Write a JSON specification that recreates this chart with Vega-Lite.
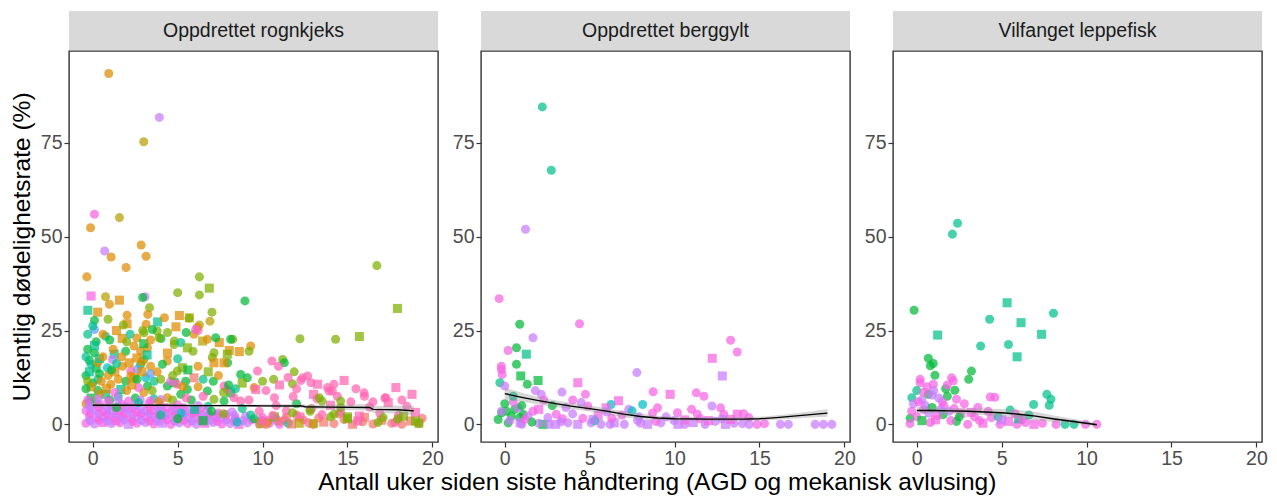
{
"$schema":"https://vega.github.io/schema/vega-lite/v6.json",
"padding":{"left":8,"top":11,"right":0,"bottom":0},
"title":{"text":"Antall uker siden siste håndtering (AGD og mekanisk avlusing)","orient":"bottom","anchor":"middle","fontSize":24.5,"fontWeight":"normal","font":"Liberation Sans","color":"#000000","offset":3,"dx":19},
"config":{"font":"Liberation Sans","view":{"stroke":"#333333","strokeWidth":1.4},
"axis":{"grid":false,"domain":false,"labelFontSize":19.5,"labelColor":"#4D4D4D","labelFont":"Liberation Sans","tickColor":"#333333","tickSize":5,"tickWidth":1.2,"labelPadding":2,"titleFontSize":24.5,"titleFontWeight":"normal","titleColor":"#000000","titleFont":"Liberation Sans"}},
"datasets":{
"fit":[
{"f":"R","x":0,"y":5.1,"lo":4.5,"hi":5.7},{"f":"R","x":1,"y":5.1,"lo":4.6,"hi":5.6},{"f":"R","x":2,"y":5.1,"lo":4.7,"hi":5.5},{"f":"R","x":4,"y":5.1,"lo":4.8,"hi":5.4},{"f":"R","x":6,"y":5.0,"lo":4.7,"hi":5.3},{"f":"R","x":8,"y":5.0,"lo":4.7,"hi":5.3},{"f":"R","x":10,"y":4.95,"lo":4.6,"hi":5.3},{"f":"R","x":12.3,"y":4.9,"lo":4.4,"hi":5.4},{"f":"R","x":12.5,"y":4.7,"lo":4.2,"hi":5.2},{"f":"R","x":14,"y":4.6,"lo":3.9,"hi":5.3},{"f":"R","x":16.3,"y":4.5,"lo":3.6,"hi":5.4},{"f":"R","x":16.5,"y":4.0,"lo":3.1,"hi":4.9},{"f":"R","x":18,"y":3.9,"lo":2.8,"hi":5.0},{"f":"R","x":18.9,"y":3.6,"lo":2.3,"hi":4.9},
{"f":"B","x":0,"y":8.2,"lo":6.6,"hi":9.8},{"f":"B","x":1,"y":7.2,"lo":6.0,"hi":8.4},{"f":"B","x":2,"y":6.3,"lo":5.3,"hi":7.3},{"f":"B","x":3,"y":5.5,"lo":4.6,"hi":6.4},{"f":"B","x":4,"y":4.8,"lo":4.0,"hi":5.6},{"f":"B","x":5,"y":4.2,"lo":3.4,"hi":5.0},{"f":"B","x":6,"y":3.5,"lo":2.7,"hi":4.3},{"f":"B","x":7,"y":2.7,"lo":1.9,"hi":3.5},{"f":"B","x":8,"y":2.1,"lo":1.3,"hi":2.9},{"f":"B","x":9,"y":1.7,"lo":1.1,"hi":2.3},{"f":"B","x":10,"y":1.5,"lo":1.0,"hi":2.0},{"f":"B","x":12,"y":1.4,"lo":0.9,"hi":1.9},{"f":"B","x":14,"y":1.4,"lo":0.9,"hi":1.9},{"f":"B","x":15,"y":1.5,"lo":1.0,"hi":2.0},{"f":"B","x":16,"y":1.8,"lo":1.2,"hi":2.4},{"f":"B","x":17,"y":2.2,"lo":1.5,"hi":2.9},{"f":"B","x":18,"y":2.6,"lo":1.8,"hi":3.4},{"f":"B","x":19,"y":3.0,"lo":2.0,"hi":4.0},
{"f":"V","x":0,"y":3.7,"lo":2.8,"hi":4.6},{"f":"V","x":1,"y":3.7,"lo":3.0,"hi":4.4},{"f":"V","x":2,"y":3.6,"lo":2.9,"hi":4.3},{"f":"V","x":3,"y":3.5,"lo":2.7,"hi":4.3},{"f":"V","x":4,"y":3.3,"lo":2.4,"hi":4.2},{"f":"V","x":5,"y":3.1,"lo":2.1,"hi":4.1},{"f":"V","x":6,"y":2.7,"lo":1.6,"hi":3.8},{"f":"V","x":7,"y":2.2,"lo":1.1,"hi":3.3},{"f":"V","x":8,"y":1.5,"lo":0.6,"hi":2.4},{"f":"V","x":9,"y":0.9,"lo":0.2,"hi":1.6},{"f":"V","x":10,"y":0.3,"lo":-0.2,"hi":0.8},{"f":"V","x":10.6,"y":-0.1,"lo":-0.5,"hi":0.3}
],
"pts":[
{"f":"R","g":"B","s":"o","x":0.94,"y":93.5},{"f":"R","g":"J","s":"o","x":3.92,"y":81.8},{"f":"R","g":"C","s":"o","x":3.0,"y":75.3},{"f":"R","g":"K","s":"o","x":0.1,"y":56.0},{"f":"R","g":"C","s":"o","x":1.57,"y":55.1},{"f":"R","g":"B","s":"o","x":-0.13,"y":52.4},{"f":"R","g":"B","s":"o","x":2.85,"y":47.8},{"f":"R","g":"J","s":"o","x":0.7,"y":46.2},{"f":"R","g":"B","s":"o","x":1.08,"y":44.6},{"f":"R","g":"B","s":"o","x":3.14,"y":44.8},{"f":"R","g":"B","s":"o","x":1.96,"y":41.8},{"f":"R","g":"B","s":"o","x":-0.35,"y":39.3},{"f":"R","g":"D","s":"o","x":16.73,"y":42.3},{"f":"R","g":"D","s":"o","x":6.28,"y":39.3},{"f":"R","g":"D","s":"q","x":6.86,"y":36.3},{"f":"R","g":"D","s":"o","x":5.0,"y":35.1},{"f":"R","g":"D","s":"o","x":6.28,"y":34.5},{"f":"R","g":"F","s":"o","x":8.96,"y":32.9},{"f":"R","g":"K","s":"q","x":-0.1,"y":34.2},{"f":"R","g":"J","s":"o","x":3.08,"y":34.0},{"f":"R","g":"C","s":"o","x":0.75,"y":34.0},{"f":"R","g":"B","s":"q","x":1.57,"y":33.1},{"f":"R","g":"B","s":"o","x":0.98,"y":32.0},{"f":"R","g":"F","s":"o","x":2.94,"y":33.8},{"f":"R","g":"D","s":"o","x":3.34,"y":31.1},{"f":"R","g":"G","s":"q","x":-0.29,"y":30.4},{"f":"R","g":"B","s":"q","x":0.29,"y":29.9},{"f":"R","g":"D","s":"o","x":7.02,"y":29.9},{"f":"R","g":"C","s":"q","x":5.69,"y":28.4},{"f":"R","g":"B","s":"q","x":5.1,"y":29.0},{"f":"R","g":"B","s":"o","x":2.02,"y":29.1},{"f":"R","g":"B","s":"o","x":3.24,"y":29.3},{"f":"R","g":"G","s":"q","x":3.82,"y":27.3},{"f":"R","g":"C","s":"o","x":6.9,"y":27.5},{"f":"R","g":"B","s":"q","x":2.02,"y":26.8},{"f":"R","g":"B","s":"o","x":4.22,"y":28.4},{"f":"R","g":"B","s":"o","x":3.14,"y":26.7},{"f":"R","g":"C","s":"o","x":6.28,"y":26.5},{"f":"R","g":"F","s":"o","x":0.1,"y":27.7},{"f":"R","g":"L","s":"o","x":6.2,"y":25.0},{"f":"R","g":"I","s":"o","x":0.1,"y":25.3},{"f":"R","g":"D","s":"o","x":2.94,"y":25.0},{"f":"R","g":"G","s":"o","x":0.75,"y":23.5},{"f":"R","g":"D","s":"o","x":3.79,"y":24.9},{"f":"R","g":"B","s":"q","x":1.73,"y":22.9},{"f":"R","g":"F","s":"o","x":4.02,"y":22.9},{"f":"R","g":"D","s":"o","x":4.8,"y":22.2},{"f":"R","g":"D","s":"o","x":8.24,"y":22.7},{"f":"R","g":"D","s":"o","x":12.2,"y":22.8},{"f":"R","g":"D","s":"o","x":14.3,"y":22.7},{"f":"R","g":"D","s":"q","x":15.7,"y":23.4},{"f":"R","g":"C","s":"q","x":6.47,"y":22.2},{"f":"R","g":"B","s":"q","x":7.45,"y":21.8},{"f":"R","g":"B","s":"q","x":8.04,"y":19.7},{"f":"R","g":"B","s":"q","x":8.63,"y":19.4},{"f":"R","g":"B","s":"o","x":9.3,"y":20.9},{"f":"R","g":"D","s":"o","x":9.2,"y":19.5},{"f":"R","g":"F","s":"o","x":7.94,"y":16.4},{"f":"R","g":"D","s":"o","x":11.18,"y":17.3},{"f":"R","g":"F","s":"o","x":11.28,"y":16.4},{"f":"R","g":"L","s":"o","x":10.55,"y":16.9},{"f":"R","g":"L","s":"o","x":10.94,"y":15.5},{"f":"R","g":"L","s":"o","x":9.7,"y":14.2},{"f":"R","g":"D","s":"o","x":11.86,"y":14.0},{"f":"R","g":"D","s":"o","x":11.76,"y":10.8},{"f":"R","g":"D","s":"o","x":10.0,"y":11.5},{"f":"R","g":"D","s":"o","x":10.65,"y":12.0},{"f":"R","g":"L","s":"o","x":12.35,"y":12.4},{"f":"R","g":"L","s":"o","x":12.85,"y":11.1},{"f":"R","g":"L","s":"q","x":13.24,"y":10.7},{"f":"R","g":"L","s":"o","x":13.82,"y":9.8},{"f":"R","g":"L","s":"o","x":14.2,"y":10.7},{"f":"R","g":"L","s":"q","x":14.8,"y":11.7},{"f":"R","g":"L","s":"o","x":15.98,"y":8.4},{"f":"R","g":"L","s":"q","x":17.85,"y":9.8},{"f":"R","g":"L","s":"o","x":12.65,"y":12.9},{"f":"R","g":"L","s":"o","x":14.1,"y":8.9},{"f":"R","g":"D","s":"q","x":17.94,"y":30.9},{"f":"R","g":"D","s":"o","x":5.67,"y":28.3},{"f":"R","g":"G","s":"o","x":0.0,"y":26.2},{"f":"R","g":"D","s":"o","x":3.02,"y":24.4},{"f":"R","g":"F","s":"o","x":3.51,"y":25.3},{"f":"R","g":"D","s":"o","x":3.9,"y":23.1},{"f":"R","g":"D","s":"o","x":4.79,"y":21.3},{"f":"R","g":"G","s":"o","x":5.18,"y":21.8},{"f":"R","g":"D","s":"q","x":5.57,"y":20.4},{"f":"R","g":"B","s":"o","x":5.96,"y":24.0},{"f":"R","g":"B","s":"o","x":6.16,"y":25.8},{"f":"R","g":"K","s":"o","x":6.06,"y":25.3},{"f":"R","g":"B","s":"o","x":6.75,"y":22.7},{"f":"R","g":"F","s":"o","x":7.24,"y":23.1},{"f":"R","g":"F","s":"o","x":8.12,"y":22.7},{"f":"R","g":"D","s":"o","x":7.14,"y":19.1},{"f":"R","g":"D","s":"o","x":7.04,"y":17.8},{"f":"R","g":"B","s":"q","x":7.14,"y":16.4},{"f":"R","g":"B","s":"q","x":7.73,"y":16.4},{"f":"R","g":"D","s":"q","x":7.92,"y":18.7},{"f":"R","g":"A","s":"q","x":5.96,"y":12.4},{"f":"R","g":"B","s":"o","x":4.39,"y":16.9},{"f":"R","g":"D","s":"o","x":4.98,"y":14.2},{"f":"R","g":"D","s":"q","x":5.28,"y":15.1},{"f":"R","g":"F","s":"o","x":5.47,"y":11.5},{"f":"R","g":"F","s":"o","x":5.57,"y":9.3},{"f":"R","g":"D","s":"o","x":3.02,"y":17.3},{"f":"R","g":"F","s":"o","x":2.82,"y":16.0},{"f":"R","g":"I","s":"o","x":2.63,"y":14.7},{"f":"R","g":"H","s":"o","x":3.12,"y":12.4},{"f":"R","g":"F","s":"o","x":3.22,"y":10.2},{"f":"R","g":"L","s":"o","x":2.24,"y":14.2},{"f":"R","g":"F","s":"o","x":1.94,"y":11.5},{"f":"R","g":"G","s":"q","x":1.65,"y":9.3},{"f":"R","g":"B","s":"o","x":1.06,"y":10.7},{"f":"R","g":"G","s":"q","x":0.76,"y":8.0},{"f":"R","g":"G","s":"q","x":1.26,"y":18.7},{"f":"R","g":"F","s":"o","x":1.94,"y":19.5},{"f":"R","g":"H","s":"o","x":0.86,"y":15.1},{"f":"R","g":"J","s":"o","x":1.16,"y":17.3},{"f":"R","g":"B","s":"o","x":2.82,"y":19.5},{"f":"R","g":"B","s":"o","x":2.43,"y":20.9},{"f":"R","g":"B","s":"o","x":3.22,"y":20.4},{"f":"R","g":"B","s":"q","x":2.14,"y":16.4},{"f":"R","g":"B","s":"o","x":3.41,"y":15.5},{"f":"R","g":"B","s":"o","x":1.75,"y":15.5},{"f":"R","g":"B","s":"o","x":2.24,"y":12.9},{"f":"R","g":"B","s":"q","x":2.43,"y":12.4},{"f":"R","g":"G","s":"o","x":3.61,"y":11.5},{"f":"R","g":"D","s":"o","x":4.0,"y":12.0},{"f":"R","g":"F","s":"o","x":4.39,"y":10.2},{"f":"R","g":"F","s":"q","x":4.79,"y":11.1},{"f":"R","g":"B","s":"o","x":4.39,"y":7.1},{"f":"R","g":"F","s":"o","x":5.18,"y":8.0},{"f":"R","g":"F","s":"o","x":6.75,"y":8.9},{"f":"R","g":"D","s":"o","x":7.14,"y":6.7},{"f":"R","g":"F","s":"o","x":7.73,"y":6.2},{"f":"R","g":"F","s":"q","x":8.12,"y":8.4},{"f":"R","g":"F","s":"o","x":8.71,"y":13.3},{"f":"R","g":"F","s":"o","x":9.1,"y":12.4},{"f":"R","g":"B","s":"o","x":9.5,"y":9.8},{"f":"R","g":"L","s":"o","x":7.73,"y":10.2},{"f":"R","g":"L","s":"o","x":7.92,"y":9.3},{"f":"R","g":"L","s":"o","x":8.32,"y":7.1},{"f":"R","g":"L","s":"o","x":8.71,"y":6.2},{"f":"R","g":"K","s":"o","x":4.59,"y":11.5},{"f":"R","g":"L","s":"o","x":4.98,"y":10.7},
{"f":"R","g":"F","s":"o","x":-0.3,"y":20.0},{"f":"R","g":"F","s":"o","x":0.1,"y":19.0},{"f":"R","g":"F","s":"o","x":-0.2,"y":17.0},{"f":"R","g":"F","s":"q","x":0.2,"y":15.0},{"f":"R","g":"F","s":"o","x":-0.4,"y":13.0},{"f":"R","g":"F","s":"o","x":0.0,"y":11.0},{"f":"R","g":"F","s":"o","x":0.3,"y":9.0},{"f":"R","g":"F","s":"q","x":-0.1,"y":7.0},{"f":"R","g":"F","s":"o","x":0.2,"y":22.0},{"f":"R","g":"G","s":"o","x":-0.3,"y":24.0},{"f":"R","g":"G","s":"q","x":-0.2,"y":14.0},{"f":"R","g":"G","s":"o","x":0.3,"y":12.0},{"f":"R","g":"G","s":"o","x":-0.4,"y":18.0},{"f":"R","g":"G","s":"q","x":0.1,"y":21.0},{"f":"R","g":"G","s":"o","x":-0.1,"y":16.0},{"f":"R","g":"B","s":"o","x":0.3,"y":16.5},{"f":"R","g":"B","s":"q","x":-0.1,"y":10.0},{"f":"R","g":"B","s":"o","x":0.4,"y":8.0},{"f":"R","g":"B","s":"o","x":-0.4,"y":5.5},{"f":"R","g":"D","s":"o","x":-0.3,"y":11.5},{"f":"R","g":"D","s":"o","x":0.1,"y":6.0},{"f":"R","g":"F","s":"o","x":-0.4,"y":9.5},{"f":"R","g":"G","s":"q","x":0.4,"y":17.5},{"f":"R","g":"F","s":"o","x":0.4,"y":13.5},{"f":"R","g":"G","s":"o","x":-0.2,"y":6.0},
{"f":"R","g":"B","s":"o","x":0.9,"y":13.0},{"f":"R","g":"B","s":"q","x":1.3,"y":14.0},{"f":"R","g":"B","s":"o","x":1.5,"y":12.0},{"f":"R","g":"B","s":"o","x":0.6,"y":18.0},{"f":"R","g":"B","s":"q","x":2.6,"y":17.7},{"f":"R","g":"B","s":"o","x":1.2,"y":20.0},{"f":"R","g":"F","s":"o","x":1.0,"y":6.5},{"f":"R","g":"G","s":"o","x":1.5,"y":7.5},{"f":"R","g":"B","s":"o","x":2.0,"y":9.0},{"f":"R","g":"F","s":"o","x":2.5,"y":7.0},{"f":"R","g":"B","s":"o","x":3.0,"y":8.5},{"f":"R","g":"G","s":"o","x":3.6,"y":6.8},{"f":"R","g":"B","s":"q","x":2.9,"y":14.0},{"f":"R","g":"D","s":"o","x":4.7,"y":6.5},{"f":"R","g":"F","s":"o","x":5.8,"y":6.5},{"f":"R","g":"B","s":"o","x":6.2,"y":10.0},{"f":"R","g":"G","s":"o","x":6.8,"y":4.8},{"f":"R","g":"K","s":"o","x":1.3,"y":8.5},{"f":"R","g":"K","s":"o","x":2.7,"y":9.8},{"f":"R","g":"I","s":"o","x":3.4,"y":13.5},{"f":"R","g":"L","s":"o","x":5.5,"y":7.0},{"f":"R","g":"L","s":"o","x":6.5,"y":7.5},
{"f":"R","g":"B","s":"o","x":0.5,"y":11.5},{"f":"R","g":"B","s":"q","x":0.8,"y":9.5},{"f":"R","g":"F","s":"o","x":1.1,"y":14.5},{"f":"R","g":"G","s":"o","x":1.4,"y":16.2},{"f":"R","g":"B","s":"o","x":1.7,"y":18.0},{"f":"R","g":"D","s":"o","x":2.0,"y":22.0},{"f":"R","g":"B","s":"q","x":2.3,"y":10.5},{"f":"R","g":"F","s":"o","x":2.6,"y":12.0},{"f":"R","g":"B","s":"o","x":2.9,"y":16.8},{"f":"R","g":"G","s":"q","x":3.2,"y":18.5},{"f":"R","g":"D","s":"o","x":3.5,"y":9.0},{"f":"R","g":"B","s":"o","x":3.8,"y":14.0},{"f":"R","g":"F","s":"o","x":4.1,"y":16.0},{"f":"R","g":"B","s":"q","x":4.4,"y":19.0},{"f":"R","g":"D","s":"o","x":4.7,"y":13.0},{"f":"R","g":"G","s":"o","x":5.0,"y":17.5},{"f":"R","g":"B","s":"o","x":5.3,"y":10.0},{"f":"R","g":"F","s":"q","x":5.6,"y":14.5},{"f":"R","g":"D","s":"o","x":5.9,"y":19.5},{"f":"R","g":"B","s":"o","x":6.2,"y":15.5},{"f":"R","g":"G","s":"o","x":6.5,"y":12.0},{"f":"R","g":"D","s":"q","x":6.8,"y":14.0},{"f":"R","g":"F","s":"o","x":7.1,"y":11.5},{"f":"R","g":"B","s":"o","x":7.4,"y":13.0},{"f":"R","g":"D","s":"o","x":7.7,"y":8.5},{"f":"R","g":"F","s":"o","x":8.0,"y":10.5},{"f":"R","g":"G","s":"o","x":8.4,"y":9.5},{"f":"R","g":"D","s":"q","x":8.8,"y":11.0},{"f":"R","g":"B","s":"o","x":0.6,"y":24.0},{"f":"R","g":"F","s":"o","x":1.0,"y":22.5},{"f":"R","g":"B","s":"q","x":1.4,"y":25.0},{"f":"R","g":"D","s":"o","x":1.8,"y":26.5},{"f":"R","g":"G","s":"o","x":2.2,"y":24.0},{"f":"R","g":"B","s":"o","x":2.6,"y":23.0},{"f":"R","g":"F","s":"q","x":3.0,"y":21.5},{"f":"R","g":"B","s":"o","x":3.4,"y":22.5},{"f":"R","g":"D","s":"o","x":4.4,"y":24.5},{"f":"R","g":"B","s":"q","x":4.9,"y":26.0},{"f":"R","g":"F","s":"o","x":5.5,"y":24.5},{"f":"R","g":"D","s":"o","x":0.9,"y":28.0},
{"f":"R","g":"K","s":"o","x":-0.4,"y":0.3},{"f":"R","g":"J","s":"o","x":0.1,"y":0.1},{"f":"R","g":"K","s":"q","x":0.6,"y":0.5},{"f":"R","g":"J","s":"o","x":1.1,"y":0.2},{"f":"R","g":"K","s":"o","x":1.6,"y":0.4},{"f":"R","g":"J","s":"q","x":2.1,"y":0.0},{"f":"R","g":"K","s":"o","x":2.6,"y":0.3},{"f":"R","g":"J","s":"o","x":3.1,"y":0.5},{"f":"R","g":"K","s":"o","x":3.6,"y":0.1},{"f":"R","g":"J","s":"q","x":4.1,"y":0.3},{"f":"R","g":"K","s":"o","x":4.6,"y":0.0},{"f":"R","g":"J","s":"o","x":5.1,"y":0.4},{"f":"R","g":"K","s":"o","x":5.6,"y":0.2},{"f":"R","g":"J","s":"o","x":6.1,"y":0.0},{"f":"R","g":"K","s":"q","x":6.6,"y":0.3},{"f":"R","g":"J","s":"o","x":7.1,"y":0.5},{"f":"R","g":"K","s":"o","x":7.6,"y":0.1},{"f":"R","g":"J","s":"o","x":8.1,"y":0.2},{"f":"R","g":"K","s":"q","x":8.6,"y":0.0},{"f":"R","g":"J","s":"o","x":9.1,"y":0.4},{"f":"R","g":"K","s":"o","x":9.8,"y":0.1},{"f":"R","g":"J","s":"o","x":10.4,"y":0.3},{"f":"R","g":"K","s":"o","x":11.0,"y":0.0},
{"f":"R","g":"J","s":"o","x":-0.15,"y":1.0},{"f":"R","g":"K","s":"o","x":0.35,"y":1.1},{"f":"R","g":"J","s":"o","x":0.85,"y":0.9},{"f":"R","g":"K","s":"q","x":1.35,"y":1.0},{"f":"R","g":"J","s":"o","x":1.85,"y":1.2},{"f":"R","g":"K","s":"o","x":2.35,"y":0.8},{"f":"R","g":"J","s":"o","x":2.85,"y":1.1},{"f":"R","g":"K","s":"o","x":3.35,"y":0.9},{"f":"R","g":"J","s":"q","x":3.85,"y":1.0},{"f":"R","g":"K","s":"o","x":4.35,"y":1.2},{"f":"R","g":"J","s":"o","x":4.85,"y":0.8},{"f":"R","g":"K","s":"o","x":5.35,"y":1.1},{"f":"R","g":"J","s":"o","x":5.85,"y":0.9},{"f":"R","g":"K","s":"o","x":6.35,"y":1.0},{"f":"R","g":"J","s":"q","x":6.85,"y":1.2},{"f":"R","g":"K","s":"o","x":7.35,"y":0.8},{"f":"R","g":"J","s":"o","x":7.85,"y":1.1},{"f":"R","g":"K","s":"o","x":8.35,"y":0.9},{"f":"R","g":"J","s":"o","x":8.85,"y":1.0},{"f":"R","g":"K","s":"o","x":9.35,"y":1.2},{"f":"R","g":"J","s":"o","x":9.85,"y":0.8},{"f":"R","g":"K","s":"o","x":10.35,"y":1.1},{"f":"R","g":"J","s":"o","x":10.85,"y":0.9},
{"f":"R","g":"J","s":"o","x":-0.2,"y":2.0},{"f":"R","g":"K","s":"o","x":0.3,"y":1.8},{"f":"R","g":"J","s":"q","x":0.8,"y":2.2},{"f":"R","g":"K","s":"o","x":1.3,"y":1.9},{"f":"R","g":"J","s":"o","x":1.8,"y":2.1},{"f":"R","g":"K","s":"o","x":2.3,"y":1.7},{"f":"R","g":"J","s":"o","x":2.8,"y":2.3},{"f":"R","g":"K","s":"q","x":3.3,"y":2.0},{"f":"R","g":"J","s":"o","x":3.8,"y":1.8},{"f":"R","g":"K","s":"o","x":4.3,"y":2.2},{"f":"R","g":"J","s":"o","x":4.8,"y":1.9},{"f":"R","g":"K","s":"o","x":5.3,"y":2.1},{"f":"R","g":"J","s":"q","x":5.8,"y":1.7},{"f":"R","g":"K","s":"o","x":6.3,"y":2.0},{"f":"R","g":"J","s":"o","x":6.8,"y":2.3},{"f":"R","g":"K","s":"o","x":7.3,"y":1.8},{"f":"R","g":"J","s":"o","x":7.8,"y":2.0},{"f":"R","g":"K","s":"o","x":8.4,"y":1.6},{"f":"R","g":"J","s":"o","x":9.0,"y":2.2},{"f":"R","g":"K","s":"o","x":10.0,"y":1.8},{"f":"R","g":"J","s":"o","x":10.8,"y":1.5},{"f":"R","g":"K","s":"o","x":11.3,"y":1.2},
{"f":"R","g":"K","s":"o","x":-0.15,"y":2.8},{"f":"R","g":"J","s":"o","x":0.35,"y":2.9},{"f":"R","g":"K","s":"o","x":0.85,"y":2.7},{"f":"R","g":"J","s":"o","x":1.35,"y":2.8},{"f":"R","g":"K","s":"q","x":1.85,"y":3.0},{"f":"R","g":"J","s":"o","x":2.35,"y":2.7},{"f":"R","g":"K","s":"o","x":2.85,"y":2.9},{"f":"R","g":"J","s":"o","x":3.35,"y":2.8},{"f":"R","g":"K","s":"o","x":3.85,"y":2.6},{"f":"R","g":"J","s":"o","x":4.35,"y":2.9},{"f":"R","g":"K","s":"q","x":4.85,"y":2.8},{"f":"R","g":"J","s":"o","x":5.35,"y":2.7},{"f":"R","g":"K","s":"o","x":5.85,"y":2.9},{"f":"R","g":"J","s":"o","x":6.35,"y":2.6},{"f":"R","g":"K","s":"o","x":6.85,"y":2.8},{"f":"R","g":"J","s":"o","x":7.35,"y":2.5},{"f":"R","g":"K","s":"o","x":7.85,"y":2.7},{"f":"R","g":"J","s":"o","x":8.35,"y":2.4},
{"f":"R","g":"K","s":"o","x":-0.4,"y":3.6},{"f":"R","g":"J","s":"o","x":0.1,"y":3.8},{"f":"R","g":"K","s":"o","x":0.6,"y":3.4},{"f":"R","g":"J","s":"q","x":1.1,"y":3.7},{"f":"R","g":"K","s":"o","x":1.6,"y":3.5},{"f":"R","g":"J","s":"o","x":2.1,"y":3.9},{"f":"R","g":"K","s":"o","x":2.6,"y":3.3},{"f":"R","g":"J","s":"o","x":3.1,"y":3.6},{"f":"R","g":"K","s":"q","x":3.6,"y":3.8},{"f":"R","g":"J","s":"o","x":4.1,"y":3.4},{"f":"R","g":"K","s":"o","x":4.7,"y":3.7},{"f":"R","g":"J","s":"o","x":5.4,"y":3.5},{"f":"R","g":"K","s":"o","x":6.0,"y":3.2},{"f":"R","g":"J","s":"o","x":6.7,"y":3.6},{"f":"R","g":"K","s":"o","x":7.4,"y":3.0},{"f":"R","g":"J","s":"o","x":8.2,"y":3.3},
{"f":"R","g":"J","s":"o","x":-0.15,"y":4.4},{"f":"R","g":"K","s":"o","x":0.35,"y":4.5},{"f":"R","g":"J","s":"o","x":0.85,"y":4.3},{"f":"R","g":"K","s":"o","x":1.35,"y":4.4},{"f":"R","g":"J","s":"q","x":1.85,"y":4.6},{"f":"R","g":"K","s":"o","x":2.35,"y":4.3},{"f":"R","g":"J","s":"o","x":2.85,"y":4.5},{"f":"R","g":"K","s":"o","x":3.35,"y":4.4},{"f":"R","g":"J","s":"o","x":3.85,"y":4.2},{"f":"R","g":"K","s":"o","x":4.35,"y":4.5},{"f":"R","g":"J","s":"o","x":4.85,"y":4.3},{"f":"R","g":"K","s":"o","x":5.35,"y":4.4},{"f":"R","g":"J","s":"o","x":5.85,"y":4.1},{"f":"R","g":"K","s":"o","x":6.35,"y":4.2},
{"f":"R","g":"J","s":"o","x":-0.2,"y":5.2},{"f":"R","g":"K","s":"o","x":0.4,"y":5.4},{"f":"R","g":"J","s":"o","x":1.0,"y":5.0},{"f":"R","g":"K","s":"o","x":1.7,"y":5.3},{"f":"R","g":"J","s":"o","x":2.5,"y":5.1},{"f":"R","g":"K","s":"o","x":3.3,"y":5.5},{"f":"R","g":"J","s":"o","x":4.0,"y":4.9},{"f":"R","g":"K","s":"o","x":5.0,"y":5.2},{"f":"R","g":"J","s":"o","x":6.2,"y":5.0},
{"f":"R","g":"K","s":"o","x":-0.3,"y":6.5},{"f":"R","g":"J","s":"o","x":0.3,"y":6.8},{"f":"R","g":"K","s":"o","x":0.9,"y":6.3},{"f":"R","g":"J","s":"o","x":1.5,"y":6.6},{"f":"R","g":"K","s":"o","x":2.1,"y":6.2},{"f":"R","g":"J","s":"o","x":2.8,"y":6.5},{"f":"R","g":"K","s":"o","x":3.4,"y":6.3},{"f":"R","g":"J","s":"o","x":4.0,"y":6.6},
{"f":"R","g":"F","s":"o","x":1.4,"y":4.5},{"f":"R","g":"G","s":"o","x":2.7,"y":5.8},{"f":"R","g":"B","s":"o","x":3.9,"y":6.0},{"f":"R","g":"H","s":"o","x":5.2,"y":3.0},{"f":"R","g":"F","s":"q","x":6.5,"y":1.0},{"f":"R","g":"D","s":"o","x":7.7,"y":2.8},{"f":"R","g":"G","s":"o","x":8.8,"y":4.2},{"f":"R","g":"F","s":"o","x":9.5,"y":1.5},{"f":"R","g":"C","s":"q","x":9.9,"y":0.2},{"f":"R","g":"B","s":"o","x":10.3,"y":0.5},{"f":"R","g":"D","s":"q","x":10.7,"y":2.0},{"f":"R","g":"G","s":"o","x":11.5,"y":0.3},{"f":"R","g":"F","s":"o","x":12.0,"y":5.5},{"f":"R","g":"D","s":"o","x":12.8,"y":3.5},{"f":"R","g":"G","s":"o","x":4.0,"y":2.5},{"f":"R","g":"F","s":"o","x":5.0,"y":1.5},{"f":"R","g":"G","s":"q","x":6.0,"y":4.0},{"f":"R","g":"F","s":"o","x":7.0,"y":3.5},{"f":"R","g":"H","s":"o","x":8.5,"y":0.6},{"f":"R","g":"G","s":"o","x":9.3,"y":2.5},
{"f":"R","g":"A","s":"o","x":10.2,"y":0.0},{"f":"R","g":"A","s":"o","x":11.0,"y":0.8},{"f":"R","g":"A","s":"q","x":11.7,"y":0.1},{"f":"R","g":"A","s":"o","x":12.4,"y":1.2},{"f":"R","g":"A","s":"o","x":13.0,"y":0.0},{"f":"R","g":"A","s":"q","x":13.6,"y":0.6},{"f":"R","g":"A","s":"o","x":14.2,"y":0.2},{"f":"R","g":"A","s":"o","x":14.8,"y":1.3},{"f":"R","g":"A","s":"q","x":15.3,"y":0.0},{"f":"R","g":"A","s":"o","x":15.9,"y":0.7},{"f":"R","g":"A","s":"o","x":16.5,"y":0.1},{"f":"R","g":"A","s":"q","x":17.0,"y":1.1},{"f":"R","g":"A","s":"o","x":17.6,"y":0.3},{"f":"R","g":"A","s":"o","x":18.2,"y":0.0},{"f":"R","g":"A","s":"q","x":18.7,"y":0.9},{"f":"R","g":"A","s":"o","x":19.2,"y":0.2},{"f":"R","g":"A","s":"o","x":19.4,"y":1.6},{"f":"R","g":"A","s":"o","x":12.0,"y":2.5},{"f":"R","g":"A","s":"o","x":14.5,"y":2.8},{"f":"R","g":"A","s":"o","x":11.4,"y":1.9},{"f":"R","g":"A","s":"q","x":16.0,"y":1.9},{"f":"R","g":"A","s":"o","x":18.0,"y":1.5},{"f":"R","g":"A","s":"o","x":13.3,"y":1.7},
{"f":"R","g":"L","s":"o","x":10.6,"y":2.4},{"f":"R","g":"L","s":"o","x":11.4,"y":3.6},{"f":"R","g":"L","s":"q","x":12.2,"y":2.0},{"f":"R","g":"L","s":"o","x":12.9,"y":4.2},{"f":"R","g":"L","s":"o","x":13.5,"y":2.6},{"f":"R","g":"L","s":"q","x":14.0,"y":5.1},{"f":"R","g":"L","s":"o","x":14.6,"y":3.3},{"f":"R","g":"L","s":"o","x":15.2,"y":6.0},{"f":"R","g":"L","s":"q","x":15.7,"y":2.2},{"f":"R","g":"L","s":"o","x":16.3,"y":4.6},{"f":"R","g":"L","s":"o","x":16.9,"y":3.0},{"f":"R","g":"L","s":"q","x":17.4,"y":5.8},{"f":"R","g":"L","s":"o","x":18.0,"y":2.4},{"f":"R","g":"L","s":"o","x":18.5,"y":4.8},{"f":"R","g":"L","s":"q","x":19.0,"y":3.2},{"f":"R","g":"L","s":"o","x":13.2,"y":6.8},{"f":"R","g":"L","s":"o","x":16.0,"y":7.5},{"f":"R","g":"L","s":"o","x":17.2,"y":7.0},{"f":"R","g":"L","s":"o","x":11.8,"y":7.4},{"f":"R","g":"L","s":"o","x":10.8,"y":5.0},{"f":"R","g":"L","s":"o","x":9.8,"y":3.5},{"f":"R","g":"L","s":"o","x":9.2,"y":6.5},{"f":"R","g":"L","s":"o","x":10.2,"y":9.0},{"f":"R","g":"L","s":"q","x":11.0,"y":10.5},{"f":"R","g":"L","s":"o","x":11.5,"y":12.5},{"f":"R","g":"L","s":"o","x":12.0,"y":9.5},{"f":"R","g":"L","s":"q","x":13.0,"y":8.0},{"f":"R","g":"L","s":"o","x":14.4,"y":7.5},{"f":"R","g":"L","s":"o","x":15.5,"y":9.5},{"f":"R","g":"L","s":"o","x":16.5,"y":6.0},{"f":"R","g":"L","s":"o","x":18.2,"y":6.5},{"f":"R","g":"L","s":"q","x":18.8,"y":8.0},{"f":"R","g":"L","s":"o","x":10.0,"y":1.0},{"f":"R","g":"L","s":"o","x":12.7,"y":0.4},{"f":"R","g":"L","s":"q","x":15.6,"y":0.9},{"f":"R","g":"L","s":"o","x":17.8,"y":0.5},
{"f":"R","g":"D","s":"q","x":15.0,"y":1.5},{"f":"R","g":"D","s":"o","x":16.8,"y":0.5},{"f":"R","g":"D","s":"q","x":18.3,"y":2.2},{"f":"R","g":"D","s":"o","x":14.0,"y":2.0},{"f":"R","g":"D","s":"q","x":19.2,"y":0.3},{"f":"R","g":"D","s":"o","x":12.8,"y":4.0},{"f":"R","g":"C","s":"q","x":12.16,"y":0.3},{"f":"R","g":"C","s":"q","x":12.98,"y":0.2},{"f":"R","g":"D","s":"o","x":13.5,"y":6.2},{"f":"R","g":"D","s":"o","x":14.6,"y":4.5},
{"f":"R","g":"L","s":"q","x":9.6,"y":9.3},{"f":"R","g":"L","s":"o","x":10.7,"y":7.1},{"f":"R","g":"L","s":"o","x":12.25,"y":11.7},{"f":"R","g":"L","s":"o","x":13.92,"y":8.9},{"f":"R","g":"L","s":"o","x":17.26,"y":7.1},{"f":"R","g":"D","s":"o","x":13.34,"y":7.1},{"f":"R","g":"D","s":"o","x":14.6,"y":6.2},{"f":"R","g":"D","s":"o","x":14.2,"y":2.7},{"f":"R","g":"D","s":"q","x":15.0,"y":2.0},{"f":"R","g":"D","s":"o","x":17.1,"y":1.8},{"f":"R","g":"D","s":"o","x":17.95,"y":1.4},{"f":"R","g":"D","s":"q","x":19.0,"y":0.9},{"f":"R","g":"D","s":"o","x":11.76,"y":3.1},
{"f":"B","g":"G","s":"o","x":2.21,"y":84.6},{"f":"B","g":"G","s":"o","x":2.74,"y":67.7},{"f":"B","g":"J","s":"o","x":1.22,"y":52.0},{"f":"B","g":"K","s":"o","x":-0.33,"y":33.5},{"f":"B","g":"F","s":"o","x":0.88,"y":26.7},{"f":"B","g":"J","s":"o","x":1.66,"y":23.1},{"f":"B","g":"K","s":"o","x":4.4,"y":26.8},{"f":"B","g":"F","s":"o","x":0.69,"y":20.4},{"f":"B","g":"K","s":"o","x":0.2,"y":19.7},{"f":"B","g":"G","s":"q","x":1.27,"y":18.7},{"f":"B","g":"K","s":"o","x":-0.2,"y":15.5},{"f":"B","g":"K","s":"o","x":-0.2,"y":14.6},{"f":"B","g":"K","s":"o","x":-0.15,"y":13.3},{"f":"B","g":"F","s":"o","x":0.69,"y":16.0},{"f":"B","g":"F","s":"q","x":0.94,"y":12.9},{"f":"B","g":"F","s":"o","x":1.33,"y":10.7},{"f":"B","g":"F","s":"q","x":1.96,"y":11.7},{"f":"B","g":"G","s":"o","x":-0.29,"y":11.1},{"f":"B","g":"J","s":"o","x":0.0,"y":10.2},{"f":"B","g":"J","s":"o","x":3.37,"y":8.6},{"f":"B","g":"J","s":"o","x":2.15,"y":8.0},{"f":"B","g":"K","s":"q","x":4.3,"y":11.1},{"f":"B","g":"K","s":"o","x":4.75,"y":8.0},{"f":"B","g":"J","s":"o","x":7.78,"y":13.8},{"f":"B","g":"K","s":"o","x":8.74,"y":8.7},{"f":"B","g":"K","s":"q","x":9.74,"y":8.0},{"f":"B","g":"K","s":"o","x":11.28,"y":8.4},{"f":"B","g":"K","s":"o","x":11.73,"y":7.5},{"f":"B","g":"K","s":"q","x":12.22,"y":17.6},{"f":"B","g":"K","s":"o","x":13.3,"y":22.4},{"f":"B","g":"K","s":"o","x":13.69,"y":19.3},{"f":"B","g":"J","s":"q","x":12.81,"y":12.9},{"f":"B","g":"J","s":"o","x":12.2,"y":4.9},{"f":"B","g":"H","s":"o","x":8.12,"y":5.3},{"f":"B","g":"H","s":"o","x":6.26,"y":5.3},{"f":"B","g":"J","s":"o","x":7.9,"y":2.0},{"f":"B","g":"K","s":"o","x":9.0,"y":4.4},{"f":"B","g":"K","s":"q","x":5.97,"y":4.4},{"f":"B","g":"K","s":"o","x":4.89,"y":4.9},{"f":"B","g":"K","s":"o","x":10.17,"y":3.1},{"f":"B","g":"K","s":"o","x":11.34,"y":2.7},{"f":"B","g":"K","s":"o","x":12.71,"y":4.4},{"f":"B","g":"K","s":"o","x":12.9,"y":2.7},{"f":"B","g":"K","s":"q","x":13.69,"y":2.7},{"f":"B","g":"K","s":"o","x":14.08,"y":2.8},{"f":"B","g":"K","s":"o","x":14.38,"y":1.8},{"f":"B","g":"K","s":"o","x":14.86,"y":0.0},{"f":"B","g":"J","s":"o","x":16.23,"y":0.0},{"f":"B","g":"J","s":"o","x":16.7,"y":0.0},{"f":"B","g":"J","s":"o","x":18.28,"y":0.0},{"f":"B","g":"J","s":"o","x":18.77,"y":0.0},{"f":"B","g":"J","s":"o","x":19.26,"y":0.0},
{"f":"B","g":"F","s":"o","x":-0.39,"y":1.3},{"f":"B","g":"F","s":"o","x":0.1,"y":3.5},{"f":"B","g":"F","s":"o","x":0.39,"y":2.2},{"f":"B","g":"F","s":"o","x":0.59,"y":4.0},{"f":"B","g":"F","s":"o","x":0.88,"y":1.8},{"f":"B","g":"F","s":"o","x":0.2,"y":0.4},{"f":"B","g":"F","s":"o","x":1.08,"y":2.7},{"f":"B","g":"F","s":"q","x":2.25,"y":0.0},{"f":"B","g":"F","s":"o","x":-0.19,"y":3.1},
{"f":"B","g":"J","s":"o","x":-0.19,"y":3.5},{"f":"B","g":"J","s":"o","x":0.78,"y":4.4},{"f":"B","g":"J","s":"o","x":1.37,"y":2.2},{"f":"B","g":"K","s":"o","x":1.66,"y":3.5},{"f":"B","g":"J","s":"o","x":2.54,"y":1.8},{"f":"B","g":"K","s":"o","x":3.03,"y":2.7},{"f":"B","g":"J","s":"o","x":3.72,"y":0.4},{"f":"B","g":"J","s":"q","x":4.3,"y":0.0},{"f":"B","g":"J","s":"o","x":5.08,"y":0.4},{"f":"B","g":"J","s":"o","x":5.67,"y":0.0},{"f":"B","g":"J","s":"q","x":6.45,"y":0.4},{"f":"B","g":"J","s":"o","x":7.04,"y":0.0},{"f":"B","g":"J","s":"o","x":7.82,"y":1.0},{"f":"B","g":"J","s":"q","x":8.41,"y":0.0},{"f":"B","g":"J","s":"o","x":9.19,"y":0.4},{"f":"B","g":"J","s":"o","x":9.97,"y":1.0},{"f":"B","g":"J","s":"o","x":10.6,"y":0.0},{"f":"B","g":"J","s":"q","x":11.1,"y":0.5},{"f":"B","g":"J","s":"o","x":11.8,"y":0.0},{"f":"B","g":"J","s":"o","x":12.4,"y":0.8},{"f":"B","g":"J","s":"q","x":13.0,"y":0.0},{"f":"B","g":"J","s":"o","x":13.5,"y":0.3},{"f":"B","g":"K","s":"o","x":15.3,"y":0.2},{"f":"B","g":"K","s":"q","x":2.0,"y":4.0},{"f":"B","g":"K","s":"o","x":3.4,"y":1.5},{"f":"B","g":"K","s":"q","x":5.5,"y":2.4},{"f":"B","g":"K","s":"o","x":6.9,"y":2.5},{"f":"B","g":"K","s":"o","x":8.7,"y":3.0},{"f":"B","g":"K","s":"q","x":10.6,"y":1.2},{"f":"B","g":"J","s":"o","x":1.0,"y":0.0},{"f":"B","g":"J","s":"o","x":2.0,"y":0.3},{"f":"B","g":"J","s":"q","x":3.0,"y":0.0},{"f":"B","g":"J","s":"o","x":4.0,"y":2.8},{"f":"B","g":"J","s":"o","x":6.0,"y":3.3},{"f":"B","g":"J","s":"o","x":7.3,"y":4.0},{"f":"B","g":"F","s":"o","x":1.6,"y":0.6},{"f":"B","g":"F","s":"o","x":2.8,"y":5.0},{"f":"B","g":"G","s":"o","x":5.3,"y":1.0},{"f":"B","g":"H","s":"o","x":7.5,"y":3.6},{"f":"B","g":"K","s":"o","x":0.5,"y":6.0},{"f":"B","g":"K","s":"o","x":2.3,"y":6.5},{"f":"B","g":"J","s":"o","x":1.8,"y":9.0},{"f":"B","g":"K","s":"q","x":6.7,"y":6.3},{"f":"B","g":"J","s":"o","x":4.5,"y":5.8},{"f":"B","g":"K","s":"o","x":11.0,"y":4.0},{"f":"B","g":"J","s":"o","x":14.0,"y":0.2},{"f":"B","g":"K","s":"q","x":12.0,"y":1.0},{"f":"B","g":"J","s":"o","x":3.6,"y":4.5},
{"f":"B","g":"J","s":"o","x":0.3,"y":1.0},{"f":"B","g":"J","s":"q","x":0.9,"y":0.4},{"f":"B","g":"K","s":"o","x":1.2,"y":1.4},{"f":"B","g":"J","s":"o","x":2.6,"y":0.0},{"f":"B","g":"J","s":"o","x":3.3,"y":0.7},{"f":"B","g":"K","s":"o","x":4.6,"y":1.6},{"f":"B","g":"J","s":"q","x":5.2,"y":1.3},{"f":"B","g":"J","s":"o","x":6.2,"y":0.0},{"f":"B","g":"K","s":"o","x":6.3,"y":1.6},{"f":"B","g":"J","s":"o","x":8.0,"y":0.3},{"f":"B","g":"K","s":"o","x":8.9,"y":0.8},{"f":"B","g":"J","s":"o","x":9.5,"y":2.0},{"f":"B","g":"J","s":"q","x":10.2,"y":0.0},{"f":"B","g":"K","s":"o","x":11.5,"y":1.5},{"f":"B","g":"J","s":"o","x":12.8,"y":1.5},{"f":"B","g":"K","s":"q","x":13.3,"y":1.3},{"f":"B","g":"J","s":"o","x":14.4,"y":0.0},{"f":"B","g":"K","s":"o","x":4.0,"y":6.5},{"f":"B","g":"F","s":"o","x":0.0,"y":5.5},{"f":"B","g":"G","s":"o","x":0.5,"y":7.5},{"f":"B","g":"F","s":"o","x":1.0,"y":5.0},
{"f":"V","g":"G","s":"o","x":2.4,"y":53.6},{"f":"V","g":"G","s":"o","x":2.1,"y":50.7},{"f":"V","g":"F","s":"o","x":-0.16,"y":30.4},{"f":"V","g":"G","s":"q","x":5.32,"y":32.4},{"f":"V","g":"G","s":"o","x":8.05,"y":29.6},{"f":"V","g":"G","s":"o","x":4.29,"y":28.0},{"f":"V","g":"G","s":"q","x":6.14,"y":27.1},{"f":"V","g":"G","s":"q","x":1.23,"y":23.8},{"f":"V","g":"G","s":"q","x":7.35,"y":24.0},{"f":"V","g":"G","s":"o","x":3.76,"y":20.9},{"f":"V","g":"G","s":"o","x":5.4,"y":21.3},{"f":"V","g":"G","s":"q","x":5.91,"y":18.0},{"f":"V","g":"F","s":"o","x":0.68,"y":17.6},{"f":"V","g":"F","s":"o","x":0.97,"y":16.2},{"f":"V","g":"F","s":"o","x":0.8,"y":15.6},{"f":"V","g":"F","s":"o","x":1.07,"y":13.1},{"f":"V","g":"F","s":"o","x":3.22,"y":14.2},{"f":"V","g":"F","s":"o","x":3.06,"y":12.0},{"f":"V","g":"F","s":"o","x":2.24,"y":9.1},{"f":"V","g":"K","s":"o","x":0.2,"y":12.0},{"f":"V","g":"K","s":"o","x":0.2,"y":11.1},{"f":"V","g":"K","s":"o","x":2.05,"y":12.4},{"f":"V","g":"K","s":"o","x":2.15,"y":11.6},{"f":"V","g":"K","s":"o","x":0.97,"y":10.7},{"f":"V","g":"K","s":"o","x":4.33,"y":7.3},{"f":"V","g":"K","s":"o","x":2.34,"y":6.7},{"f":"V","g":"G","s":"o","x":7.66,"y":8.0},{"f":"V","g":"G","s":"o","x":7.9,"y":6.7},{"f":"V","g":"G","s":"o","x":7.8,"y":5.1},{"f":"V","g":"G","s":"o","x":6.88,"y":5.3},{"f":"V","g":"G","s":"o","x":-0.29,"y":7.1},{"f":"V","g":"F","s":"o","x":-0.39,"y":1.6},{"f":"V","g":"F","s":"o","x":0.68,"y":8.0},{"f":"V","g":"F","s":"o","x":1.56,"y":2.6},{"f":"V","g":"F","s":"o","x":2.34,"y":0.8},{"f":"V","g":"G","s":"o","x":8.73,"y":0.0},{"f":"V","g":"G","s":"o","x":9.26,"y":0.0},{"f":"V","g":"K","s":"o","x":10.6,"y":0.0},{"f":"V","g":"K","s":"o","x":9.94,"y":0.0},
{"f":"V","g":"K","s":"o","x":-0.4,"y":0.2},{"f":"V","g":"K","s":"o","x":0.0,"y":2.0},{"f":"V","g":"K","s":"o","x":0.4,"y":4.0},{"f":"V","g":"K","s":"o","x":0.8,"y":0.5},{"f":"V","g":"K","s":"q","x":1.2,"y":2.5},{"f":"V","g":"K","s":"o","x":1.6,"y":5.0},{"f":"V","g":"K","s":"o","x":2.0,"y":1.0},{"f":"V","g":"K","s":"q","x":2.6,"y":3.0},{"f":"V","g":"K","s":"o","x":3.0,"y":0.0},{"f":"V","g":"K","s":"o","x":3.4,"y":2.0},{"f":"V","g":"K","s":"q","x":3.9,"y":0.3},{"f":"V","g":"K","s":"o","x":4.4,"y":1.8},{"f":"V","g":"K","s":"o","x":4.9,"y":0.0},{"f":"V","g":"K","s":"q","x":5.4,"y":0.8},{"f":"V","g":"K","s":"o","x":5.9,"y":0.0},{"f":"V","g":"K","s":"o","x":6.4,"y":0.5},{"f":"V","g":"K","s":"q","x":6.9,"y":0.0},{"f":"V","g":"K","s":"o","x":7.4,"y":0.3},{"f":"V","g":"K","s":"o","x":8.2,"y":0.0},{"f":"V","g":"J","s":"o","x":-0.2,"y":5.5},{"f":"V","g":"J","s":"o","x":0.3,"y":6.5},{"f":"V","g":"J","s":"o","x":0.9,"y":7.8},{"f":"V","g":"J","s":"o","x":1.4,"y":4.0},{"f":"V","g":"J","s":"o","x":1.0,"y":9.0},{"f":"V","g":"J","s":"o","x":0.5,"y":5.0},{"f":"V","g":"K","s":"o","x":-0.3,"y":3.5},{"f":"V","g":"K","s":"o","x":2.8,"y":5.5},{"f":"V","g":"K","s":"o","x":3.6,"y":4.5},{"f":"V","g":"J","s":"o","x":1.9,"y":3.5},{"f":"V","g":"F","s":"o","x":1.8,"y":7.5},{"f":"V","g":"F","s":"q","x":0.3,"y":1.0},{"f":"V","g":"G","s":"o","x":4.8,"y":2.0},{"f":"V","g":"G","s":"q","x":6.0,"y":1.5},{"f":"V","g":"G","s":"o","x":5.5,"y":3.8},{"f":"V","g":"F","s":"o","x":2.5,"y":2.0},{"f":"V","g":"G","s":"o","x":6.6,"y":2.5},{"f":"V","g":"K","s":"o","x":4.6,"y":7.2},{"f":"V","g":"K","s":"o","x":0.6,"y":10.0},{"f":"V","g":"K","s":"o","x":1.5,"y":6.0},
{"f":"V","g":"K","s":"o","x":0.1,"y":6.0},{"f":"V","g":"J","s":"o","x":0.7,"y":3.0},{"f":"V","g":"K","s":"q","x":1.1,"y":1.2},{"f":"V","g":"J","s":"o","x":1.3,"y":7.0},{"f":"V","g":"K","s":"o","x":2.2,"y":4.2},{"f":"V","g":"K","s":"q","x":3.2,"y":3.2},{"f":"V","g":"K","s":"o","x":3.7,"y":1.0},{"f":"V","g":"K","s":"o","x":4.2,"y":3.5},{"f":"V","g":"J","s":"q","x":5.0,"y":1.2},{"f":"V","g":"K","s":"o","x":5.8,"y":2.8},{"f":"V","g":"K","s":"o","x":6.2,"y":1.2},{"f":"V","g":"F","s":"o","x":0.9,"y":4.5},{"f":"V","g":"F","s":"o","x":1.7,"y":9.5},{"f":"V","g":"G","s":"o","x":0.0,"y":9.0},{"f":"V","g":"K","s":"o","x":0.4,"y":8.5},{"f":"V","g":"K","s":"o","x":1.8,"y":10.5}
]},
"spacing":7,
"hconcat":[
{"spacing":0,"vconcat":[
 {"width":369,"height":39,"view":{"fill":"#D9D9D9","stroke":null},"data":{"values":[{"t":"Oppdrettet rognkjeks"}]},"mark":{"type":"text","fontSize":19.5,"color":"#1A1A1A","font":"Liberation Sans"},"encoding":{"text":{"field":"t"}}},
 {"width":369,"height":391,"data":{"name":"pts"},
  "layer":[
   {"transform":[{"filter":{"field":"f","equal":"R"}}],"mark":{"type":"point","filled":true,"size":82,"opacity":0.72},
    "encoding":{"x":{"field":"x","type":"quantitative","scale":{"domain":[-1.4,20.33],"nice":false,"zero":false},"axis":{"values":[0,5,10,15,20],"title":null}},
     "y":{"field":"y","type":"quantitative","scale":{"domain":[-4.7,99.5],"nice":false,"zero":false},"axis":{"values":[0,25,50,75],"title":"Ukentlig dødelighetsrate (%)","titlePadding":6}},
     "color":{"field":"g","type":"nominal","legend":null,"scale":{"domain":["A","B","C","D","F","G","H","I","J","K","L"],"range":["#F8766D","#DE8C00","#B79F00","#7CAE00","#00BA38","#00C08B","#00BFC4","#619CFF","#C77CFF","#F564E3","#FF64B0"]}},
     "shape":{"field":"s","type":"nominal","legend":null,"scale":{"domain":["o","q"],"range":["circle","square"]}}}},
   {"data":{"name":"fit"},"transform":[{"filter":{"field":"f","equal":"R"}}],"mark":{"type":"area","color":"#999999","opacity":0.4},
    "encoding":{"x":{"field":"x","type":"quantitative"},"y":{"field":"lo","type":"quantitative"},"y2":{"field":"hi"}}},
   {"data":{"name":"fit"},"transform":[{"filter":{"field":"f","equal":"R"}}],"mark":{"type":"line","color":"#000000","strokeWidth":1.3},
    "encoding":{"x":{"field":"x","type":"quantitative"},"y":{"field":"y","type":"quantitative"}}}
  ]}
]},
{"spacing":0,"vconcat":[
 {"width":369,"height":39,"view":{"fill":"#D9D9D9","stroke":null},"data":{"values":[{"t":"Oppdrettet berggylt"}]},"mark":{"type":"text","fontSize":19.5,"color":"#1A1A1A","font":"Liberation Sans"},"encoding":{"text":{"field":"t"}}},
 {"width":369,"height":391,"data":{"name":"pts"},
  "layer":[
   {"transform":[{"filter":{"field":"f","equal":"B"}}],"mark":{"type":"point","filled":true,"size":82,"opacity":0.72},
    "encoding":{"x":{"field":"x","type":"quantitative","scale":{"domain":[-1.4,20.33],"nice":false,"zero":false},"axis":{"values":[0,5,10,15,20],"title":null}},
     "y":{"field":"y","type":"quantitative","scale":{"domain":[-4.7,99.5],"nice":false,"zero":false},"axis":{"values":[0,25,50,75],"title":null}},
     "color":{"field":"g","type":"nominal","legend":null,"scale":{"domain":["A","B","C","D","F","G","H","I","J","K","L"],"range":["#F8766D","#DE8C00","#B79F00","#7CAE00","#00BA38","#00C08B","#00BFC4","#619CFF","#C77CFF","#F564E3","#FF64B0"]}},
     "shape":{"field":"s","type":"nominal","legend":null,"scale":{"domain":["o","q"],"range":["circle","square"]}}}},
   {"data":{"name":"fit"},"transform":[{"filter":{"field":"f","equal":"B"}}],"mark":{"type":"area","color":"#999999","opacity":0.4},
    "encoding":{"x":{"field":"x","type":"quantitative"},"y":{"field":"lo","type":"quantitative"},"y2":{"field":"hi"}}},
   {"data":{"name":"fit"},"transform":[{"filter":{"field":"f","equal":"B"}}],"mark":{"type":"line","color":"#000000","strokeWidth":1.3},
    "encoding":{"x":{"field":"x","type":"quantitative"},"y":{"field":"y","type":"quantitative"}}}
  ]}
]},
{"spacing":0,"vconcat":[
 {"width":369,"height":39,"view":{"fill":"#D9D9D9","stroke":null},"data":{"values":[{"t":"Vilfanget leppefisk"}]},"mark":{"type":"text","fontSize":19.5,"color":"#1A1A1A","font":"Liberation Sans"},"encoding":{"text":{"field":"t"}}},
 {"width":369,"height":391,"data":{"name":"pts"},
  "layer":[
   {"transform":[{"filter":{"field":"f","equal":"V"}}],"mark":{"type":"point","filled":true,"size":82,"opacity":0.72},
    "encoding":{"x":{"field":"x","type":"quantitative","scale":{"domain":[-1.4,20.33],"nice":false,"zero":false},"axis":{"values":[0,5,10,15,20],"title":null}},
     "y":{"field":"y","type":"quantitative","scale":{"domain":[-4.7,99.5],"nice":false,"zero":false},"axis":{"values":[0,25,50,75],"title":null}},
     "color":{"field":"g","type":"nominal","legend":null,"scale":{"domain":["A","B","C","D","F","G","H","I","J","K","L"],"range":["#F8766D","#DE8C00","#B79F00","#7CAE00","#00BA38","#00C08B","#00BFC4","#619CFF","#C77CFF","#F564E3","#FF64B0"]}},
     "shape":{"field":"s","type":"nominal","legend":null,"scale":{"domain":["o","q"],"range":["circle","square"]}}}},
   {"data":{"name":"fit"},"transform":[{"filter":{"field":"f","equal":"V"}}],"mark":{"type":"area","color":"#999999","opacity":0.4},
    "encoding":{"x":{"field":"x","type":"quantitative"},"y":{"field":"lo","type":"quantitative"},"y2":{"field":"hi"}}},
   {"data":{"name":"fit"},"transform":[{"filter":{"field":"f","equal":"V"}}],"mark":{"type":"line","color":"#000000","strokeWidth":1.3},
    "encoding":{"x":{"field":"x","type":"quantitative"},"y":{"field":"y","type":"quantitative"}}}
  ]}
]}
]
}
